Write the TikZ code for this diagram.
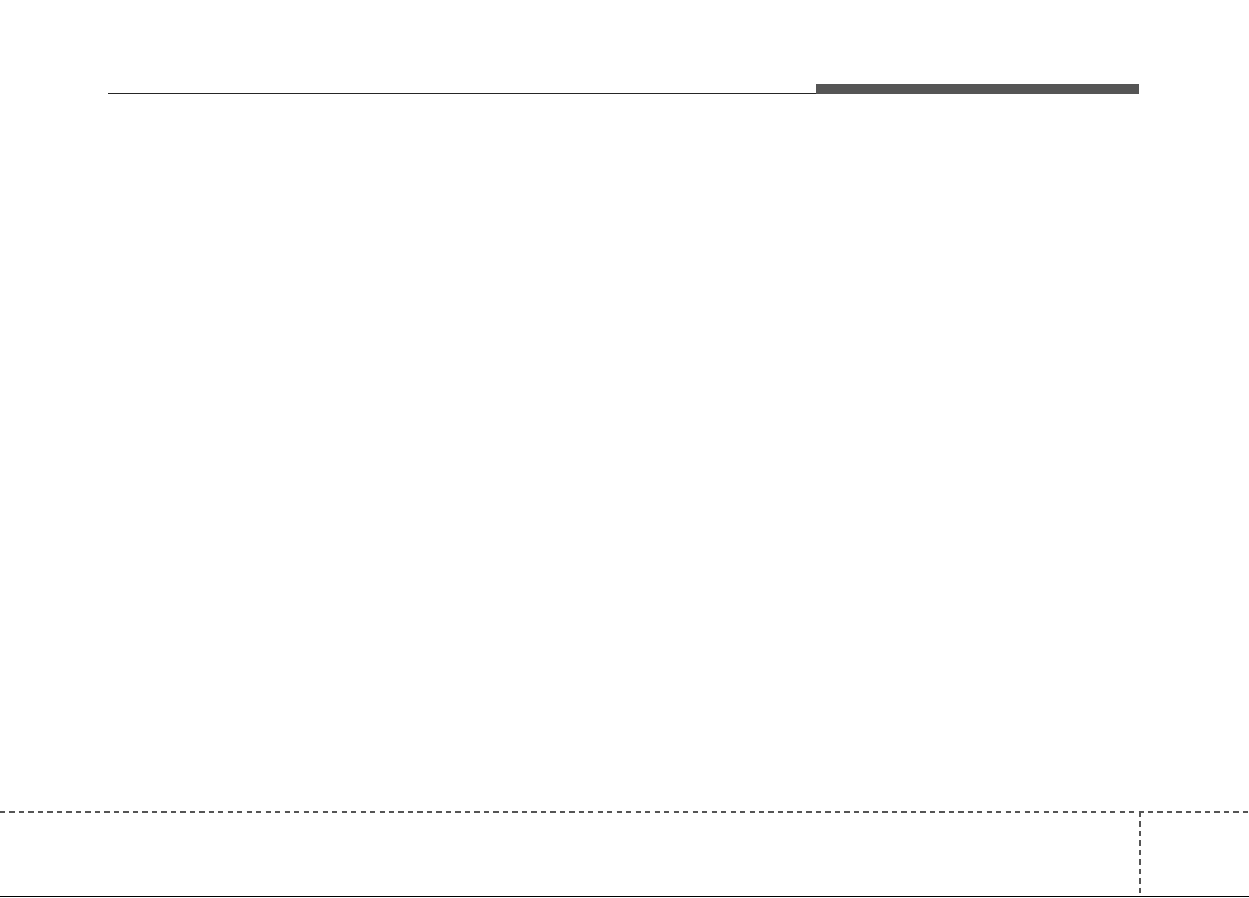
\documentclass[tikz,border=0pt]{standalone}
\usepackage{tikz}
\definecolor{bargray}{HTML}{555555}
\tikzset{footline/.style={bargray, line width=1.2pt, dash pattern=on 3pt off 2.4pt}}
\begin{document}
\begin{tikzpicture}[x=0.02cm, y=-0.02cm]
			\useasboundingbox (0,0) rectangle (1249,897);
			\draw [line width=0.5pt, black!85] (108,93) -- (816,93);
			\fill [bargray] (816,84) rectangle (1139,94);
			\draw [footline] (0,812) -- (1249,812);
			\draw [footline] (1140,812) -- (1140,897);
			\draw [line width=0.6pt] (0,896.5) -- (1249,896.5);
		\end{tikzpicture}
\end{document}
